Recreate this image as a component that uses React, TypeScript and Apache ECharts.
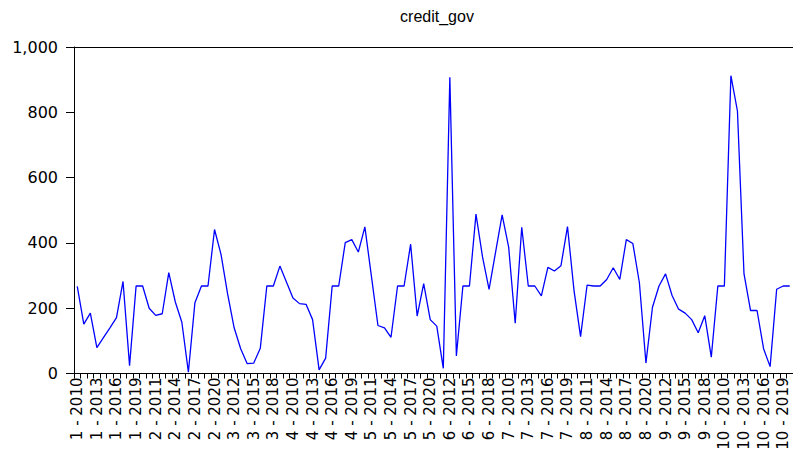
import React, { useEffect, useRef } from "react";
import * as echarts from "echarts";

const crossSections = [1, 2, 3, 4, 5, 6, 7, 8, 9, 10];
const years = [2010, 2011, 2012, 2013, 2014, 2015, 2016, 2017, 2018, 2019, 2020];

const cs1 = [267, 151, 185, 79, 110, 140, 171, 282, 24, 268, 268];
const cs2 = [200, 178, 183, 309, 219, 157, 4, 217, 268, 268, 441];
const cs3 = [364, 244, 140, 76, 30, 32, 77, 268, 268, 329, 280];
const cs4 = [231, 214, 212, 165, 11, 47, 268, 268, 401, 410, 372];
const cs5 = [449, 298, 147, 140, 111, 268, 268, 396, 176, 275, 165];
const cs6 = [145, 16, 907, 54, 268, 268, 488, 357, 258, 372, 486];
const cs7 = [387, 154, 448, 268, 268, 238, 325, 314, 330, 450, 254];
const cs8 = [113, 271, 268, 268, 288, 324, 288, 410, 398, 278, 32];
const cs9 = [203, 268, 305, 239, 197, 185, 165, 125, 177, 50, 268];
const cs10 = [268, 912, 804, 306, 193, 193, 76, 21, 258, 268, 268];

const yTicks = [0, 200, 400, 600, 800, 1000];

const categories: string[] = [];
crossSections.forEach((c) => years.forEach((y) => categories.push(`${c} - ${y}`)));
const values = [...cs1, ...cs2, ...cs3, ...cs4, ...cs5, ...cs6, ...cs7, ...cs8, ...cs9, ...cs10];

export default function App() {
  const ref = useRef<HTMLDivElement>(null);
  useEffect(() => {
    if (!ref.current) return;
    const chart = echarts.init(ref.current, null, { renderer: "svg" });
    chart.setOption({
      animation: false,
      backgroundColor: "#ffffff",
      title: {
        text: "credit_gov",
        left: 432,
        top: 3,
        textAlign: "center",
        textStyle: {
          fontFamily: "Liberation Sans, Arial, sans-serif",
          fontSize: 16,
          fontWeight: "normal",
          color: "#000",
        },
      },
      grid: {
        left: 74,
        right: 0,
        top: 47,
        bottom: 78.5,
        containLabel: false,
        outerBoundsMode: "none",
      },
      xAxis: [
        {
          type: "category",
          data: categories,
          boundaryGap: true,
          position: "bottom",
          axisLine: { show: true, lineStyle: { color: "#000", width: 1 } },
          axisTick: { show: true, interval: 0, length: 5, lineStyle: { color: "#000" } },
          axisLabel: {
            interval: 2,
            rotate: 90,
            margin: 4,
            lineHeight: 14,
            fontFamily: "DejaVu Sans, sans-serif",
            fontSize: 15,
            color: "#000",
          },
          splitLine: { show: false },
        },
        {
          type: "category",
          data: categories,
          boundaryGap: true,
          position: "top",
          axisLine: { show: true, lineStyle: { color: "#000", width: 1 } },
          axisTick: { show: false },
          axisLabel: { show: false },
          splitLine: { show: false },
        },
      ],
      yAxis: {
        type: "value",
        min: yTicks[0],
        max: yTicks[yTicks.length - 1],
        interval: 200,
        axisLine: { show: true, lineStyle: { color: "#000", width: 1 } },
        axisTick: { show: true, length: 8, lineStyle: { color: "#000" } },
        axisLabel: {
          margin: 16,
          fontFamily: "DejaVu Sans, sans-serif",
          fontSize: 16,
          color: "#000",
          formatter: (v: number) => v.toLocaleString("en-US"),
        },
        splitLine: { show: false },
      },
      series: [
        {
          type: "line",
          data: values,
          xAxisIndex: 0,
          symbol: "none",
          lineStyle: { color: "#0000ff", width: 1.3 },
        },
      ],
    });
    return () => chart.dispose();
  }, []);
  return (
    <div
      ref={ref}
      style={{ position: "fixed", left: 0, top: 0, width: 793, height: 452 }}
    />
  );
}
